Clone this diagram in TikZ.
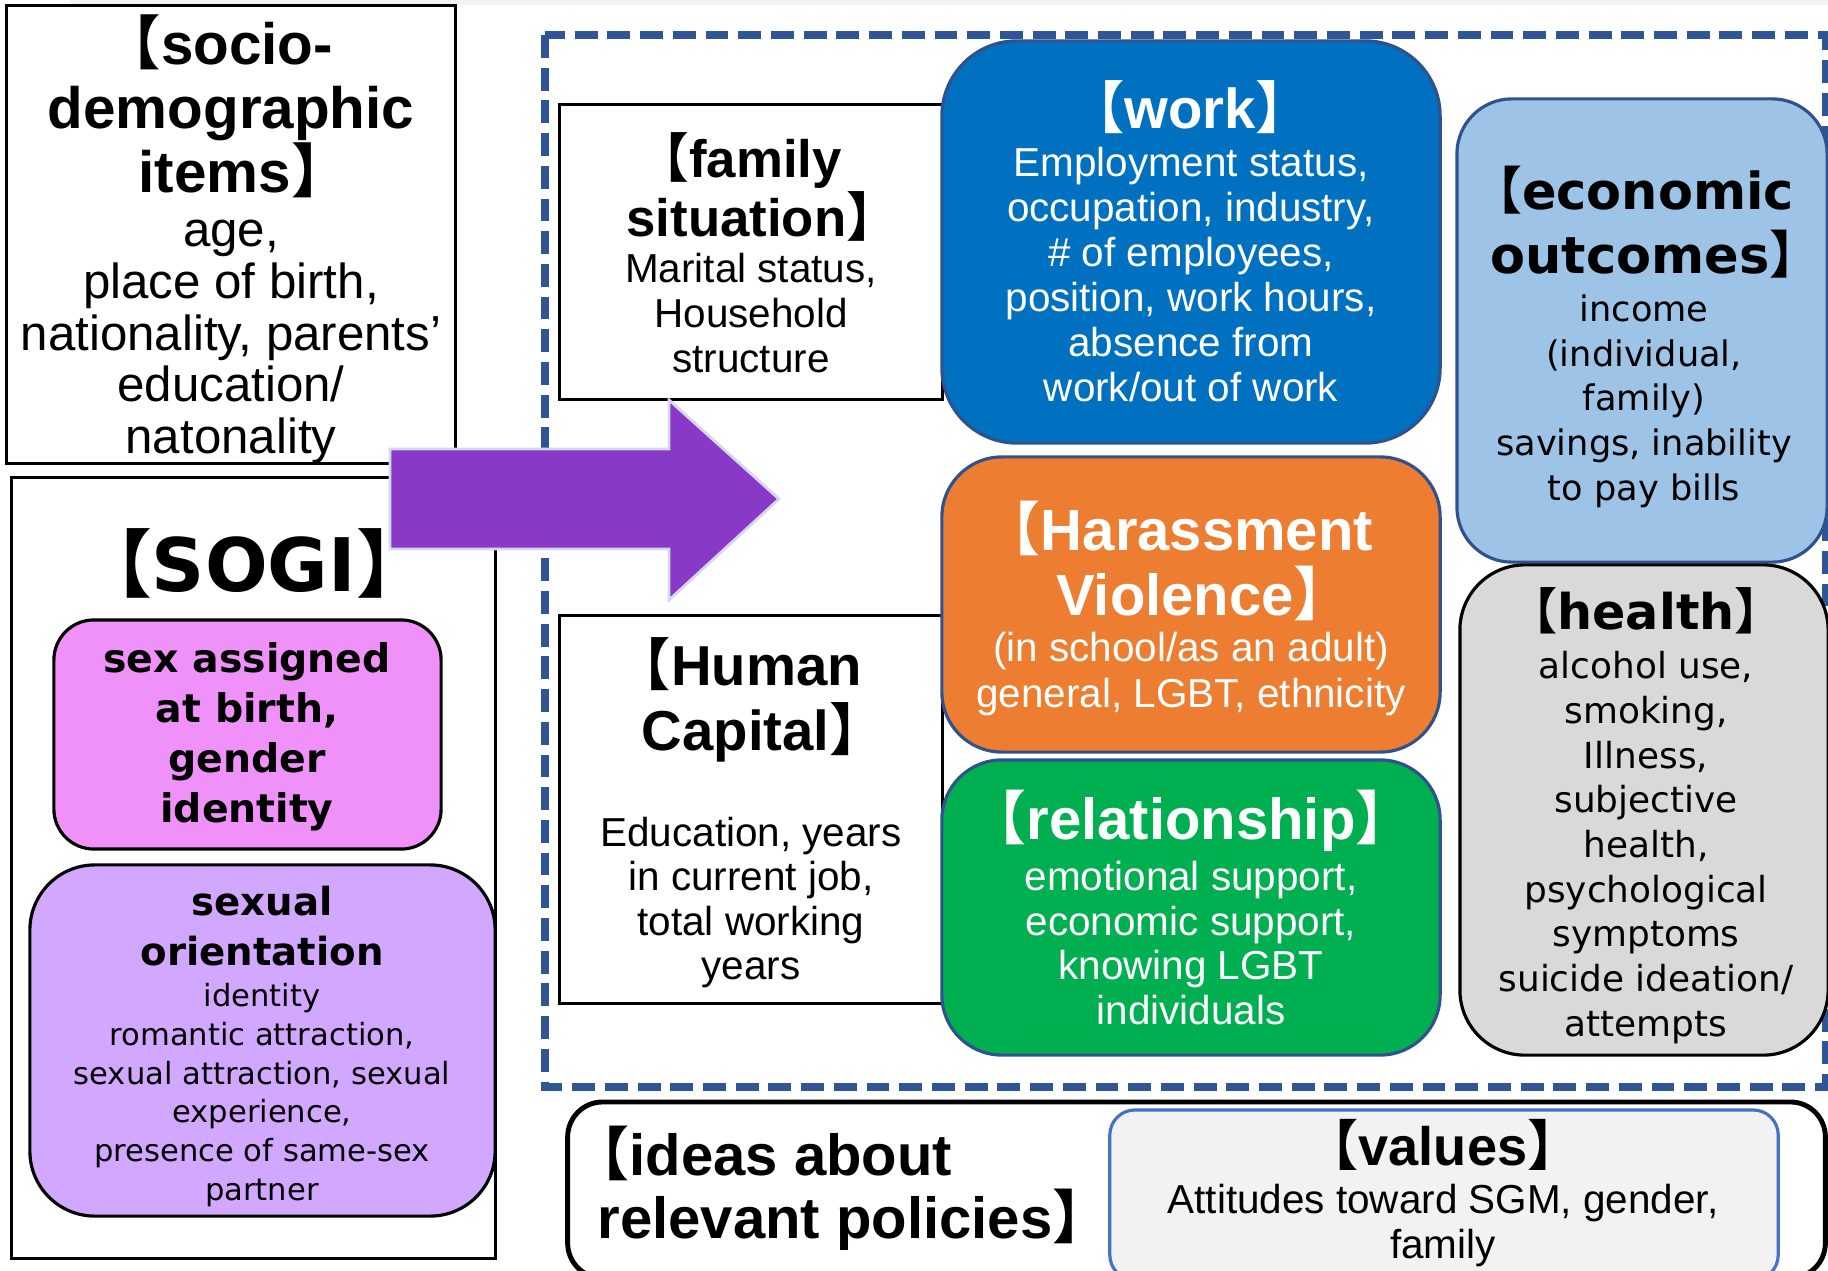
\documentclass[tikz,border=0pt]{standalone}
\usepackage{fontspec}
\setmainfont{Liberation Sans}
\newfontfamily\wfont{DejaVu Sans}
\newfontfamily\cjk{Noto Sans CJK JP}[BoldFont={Noto Sans CJK JP Bold}]

\definecolor{boxline}{RGB}{47,82,143}
\definecolor{frameblue}{RGB}{47,85,151}
\definecolor{workblue}{RGB}{0,112,192}
\definecolor{harassorange}{RGB}{237,125,49}
\definecolor{relgreen}{RGB}{0,176,80}
\definecolor{econblue}{RGB}{157,195,230}
\definecolor{healthgray}{RGB}{217,217,217}
\definecolor{sexpink}{RGB}{240,145,250}
\definecolor{orililac}{RGB}{210,167,255}
\definecolor{valuesgray}{RGB}{242,242,242}
\definecolor{valuesline}{RGB}{68,114,196}
\definecolor{arrowpurple}{RGB}{137,57,200}
\definecolor{arrowedge}{RGB}{215,215,235}

\newcommand\lb{\kern-0.45em{\cjk 【}}
\newcommand\rb{{\cjk 】}\kern-0.45em}
\newcommand\fs[2]{\fontsize{#1}{#2}\selectfont}

\begin{document}
\begin{tikzpicture}[x=0.01cm,y=-0.01cm,
	plainbox/.style={draw=black,line width=0.9pt,fill=white,inner sep=0pt},
	colbox/.style={draw=boxline,line width=0.9pt,inner sep=0pt},
	txt/.style={inner sep=0pt,align=center},
	]
	\useasboundingbox (0,0) rectangle (1828,1270);
	\fill[valuesgray] (70,0) rectangle (1828,5);

	% dashed frame round the outcomes
	\draw[frameblue,line width=2pt,dash pattern=on 6.5pt off 2.8pt] (545,35) rectangle (1825,1087);

	% left column
	\node[plainbox,minimum width=4.48cm,minimum height=4.57cm] (socio) at (231,234.5) {};
	\node[txt,font=\bfseries\fs{16.6}{18.2}] (sociotitle) at (231,106) {\lb socio-\\demographic\\items\rb};
	\node[txt,font=\fs{14}{14.7}] (sociotext) at (231,342) {age,\\place of birth,\\nationality, parents’\\education/\\natonality};

	\node[plainbox,minimum width=4.83cm,minimum height=7.80cm] (sogi) at (253.5,868) {};
	\node[txt,font=\wfont\bfseries\fs{21}{24}] (sogititle) at (254,563) {\lb SOGI\rb};
	\node[colbox,draw=black,fill=sexpink,rounded corners=0.4cm,minimum width=3.87cm,minimum height=2.29cm] (sex) at (247.5,734.5) {};
	\node[txt,font=\wfont\bfseries\fs{11.2}{14.2}] (sextext) at (247,737) {sex assigned\\at birth,\\gender\\identity};
	\node[colbox,draw=black,fill=orililac,rounded corners=0.65cm,minimum width=4.65cm,minimum height=3.51cm] (ori) at (262.5,1040.5) {};
	\node[txt,font=\wfont\bfseries\fs{11}{14.2}] (orititle) at (262,926) {sexual\\orientation};
	\node[txt,font=\wfont\fs{8.7}{11}] (oritext) at (262,1095) {identity\\romantic attraction,\\sexual attraction, sexual\\experience,\\presence of same-sex\\partner};

	% middle column
	\node[plainbox,minimum width=3.82cm,minimum height=2.94cm] (family) at (751,252) {};
	\node[txt,font=\bfseries\fs{15}{16.8}] (familytitle) at (751,186.5) {\lb family\\situation\rb};
	\node[txt,font=\fs{11.5}{12.8}] (familytext) at (751,313) {Marital status,\\Household\\structure};

	\node[plainbox,minimum width=3.82cm,minimum height=3.87cm] (human) at (751,809.5) {};
	\node[txt,font=\bfseries\fs{16}{18.5}] (humantitle) at (751,700) {\lb Human\\Capital\rb};
	\node[txt,font=\fs{11.5}{12.6}] (humantext) at (751,902.5) {Education, years\\in current job,\\total working\\years};

	% outcomes
	\node[colbox,fill=workblue,rounded corners=0.75cm,minimum width=4.98cm,minimum height=4.02cm] (work) at (1191,242) {};
	\node[txt,text=white,font=\bfseries\fs{16}{18}] (worktitle) at (1190,107) {\lb work\rb};
	\node[txt,text=white,font=\fs{11.5}{12.8}] (worktext) at (1191,275) {Employment status,\\occupation, industry,\\\# of employees,\\position, work hours,\\absence from\\work/out of work};

	\node[colbox,fill=harassorange,rounded corners=0.6cm,minimum width=4.98cm,minimum height=2.95cm] (harass) at (1191,604.5) {};
	\node[txt,text=white,font=\bfseries\fs{16.5}{18.5}] (harasstitle) at (1191,561) {\lb Harassment\\Violence\rb};
	\node[txt,text=white,font=\fs{11.5}{13}] (harasstext) at (1191,674) {(in school/as an adult)\\general, LGBT, ethnicity};

	\node[colbox,fill=relgreen,rounded corners=0.6cm,minimum width=4.98cm,minimum height=2.95cm] (rel) at (1191,907.5) {};
	\node[txt,text=white,font=\bfseries\fs{16.5}{18.5}] (reltitle) at (1191,821) {\lb relationship\rb};
	\node[txt,text=white,font=\fs{11.5}{12.7}] (reltext) at (1191,943) {emotional support,\\economic support,\\knowing LGBT\\individuals};

	\node[colbox,fill=econblue,rounded corners=0.55cm,minimum width=3.70cm,minimum height=4.63cm] (econ) at (1642,330.5) {};
	\node[txt,font=\wfont\bfseries\fs{14.5}{18.2}] (econtitle) at (1644,222) {\lb economic\\outcomes\rb};
	\node[txt,font=\wfont\fs{10}{12.7}] (econtext) at (1644,401) {income\\(individual,\\family)\\savings, inability\\to pay bills};

	\node[colbox,draw=black,fill=healthgray,rounded corners=0.65cm,minimum width=3.68cm,minimum height=4.90cm] (health) at (1644,810) {};
	\node[txt,font=\wfont\bfseries\fs{14}{16}] (healthtitle) at (1646,611) {\lb health\rb};
	\node[txt,font=\wfont\fs{10.2}{12.7}] (healthtext) at (1646,847.5) {alcohol use,\\smoking,\\Illness,\\subjective\\health,\\psychological\\symptoms\\suicide ideation/\\attempts};

	% bottom row
	\node[colbox,draw=black,fill=white,line width=1.4pt,rounded corners=0.35cm,minimum width=12.57cm,minimum height=1.76cm] (ideas) at (1196.5,1190) {};
	\node[txt,align=left,anchor=west,font=\bfseries\fs{16.5}{17.9}] (ideastext) at (597,1188.5) {\lb ideas about\\relevant policies\rb};
	\node[colbox,draw=valuesline,fill=valuesgray,rounded corners=0.25cm,minimum width=6.68cm,minimum height=1.70cm] (values) at (1444,1195) {};
	\node[txt,font=\bfseries\fs{15.4}{17}] (valuestitle) at (1443,1145) {\lb values\rb};
	\node[txt,font=\fs{11.5}{12.8}] (valuestext) at (1443,1226) {Attitudes toward SGM, gender,\\family};

	% the big arrow
	\draw[arrowedge,line width=0.8pt,fill=arrowpurple] (390,449) -- (669,449) -- (669,400) -- (779,499) -- (669,600) -- (669,549) -- (390,549) -- cycle;
\end{tikzpicture}
\end{document}
